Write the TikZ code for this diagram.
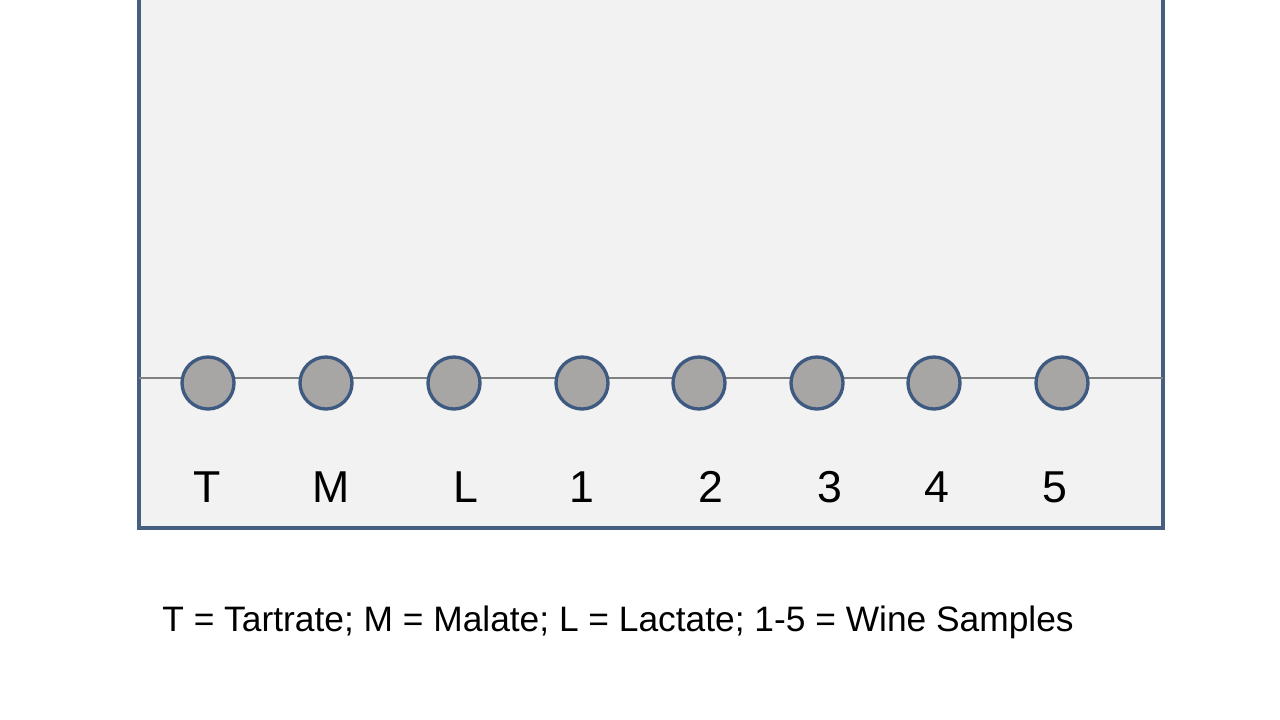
\documentclass[tikz,border=0pt]{standalone}
\usepackage{fontspec}
\setmainfont{Liberation Sans}
\definecolor{plateFill}{RGB}{242,242,242}
\definecolor{plateEdge}{RGB}{70,94,128}
\definecolor{spotFill}{RGB}{168,166,165}
\definecolor{spotEdge}{RGB}{62,90,128}
\definecolor{originLine}{RGB}{128,128,128}
\tikzset{
  plate/.style={draw=plateEdge,line width=2.3pt,fill=plateFill},
  origin/.style={draw=originLine,line width=1.5pt},
  spot/.style={circle,draw=spotEdge,line width=2.5pt,fill=spotFill,minimum size=39pt,inner sep=0pt},
  lane/.style={anchor=base,font=\fontsize{33.5}{38}\selectfont},
  legend/.style={anchor=base,font=\fontsize{26.5}{30}\selectfont}
}
\begin{document}
\begin{tikzpicture}[x=0.75pt,y=0.75pt,yscale=-1,xscale=1]
\useasboundingbox (0,0) rectangle (1280,720);

%Shape: Rectangle [plate]
\draw [plate] (139,-10) rectangle (1163,528) ;
%Straight Lines [origin]
\coordinate (origL) at (139,378) ;
\coordinate (origR) at (1163,378) ;
\draw [origin] (origL) -- (origR) ;
%Shape: Ellipse [spots]
\foreach \n/\x in {T/208,M/326,L/454,1/582,2/699,3/817,4/934,5/1062}
  \node [spot] (spot\n) at (\x,383) {} ;
%Text [lanes]
\foreach \n/\x in {T/207,M/331,L/466,1/582,2/711,3/830,4/937,5/1055}
  \node [lane] (lane\n) at (\x,502) {\n} ;
%Text [legend]
\node [legend] (legend) at (618,631) {T = Tartrate; M = Malate; L = Lactate; 1-5 = Wine Samples} ;

\end{tikzpicture}
\end{document}
